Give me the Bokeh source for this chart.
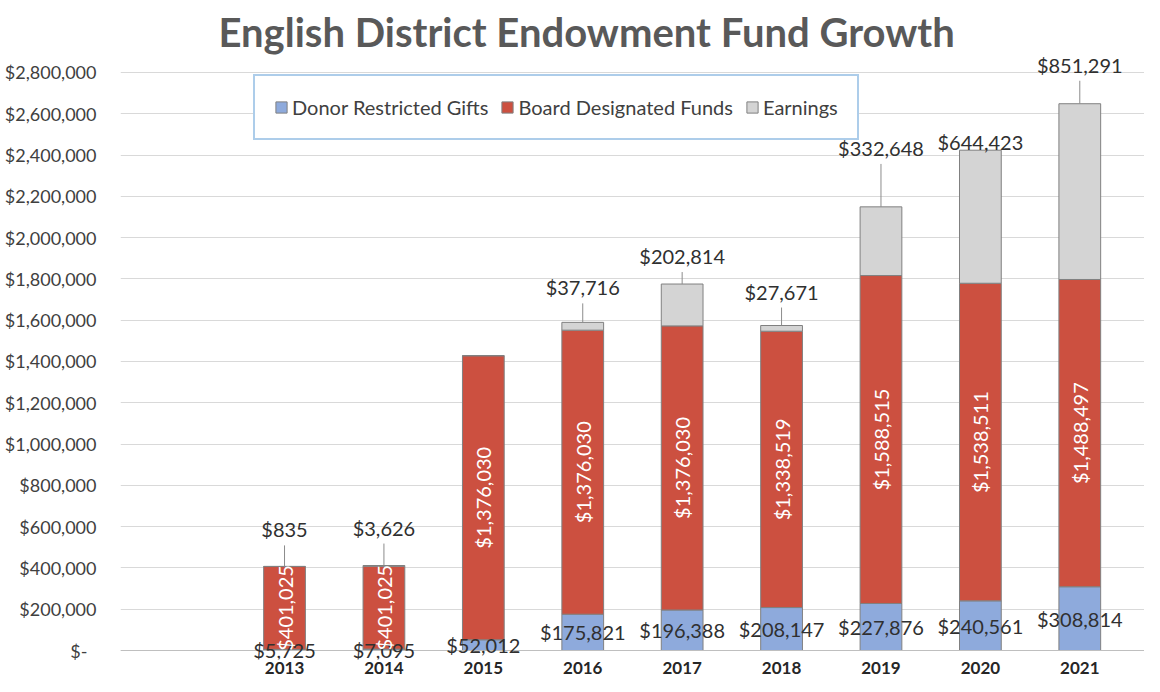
from bokeh.plotting import figure
from bokeh.models import ColumnDataSource, LabelSet, FixedTicker, Range1d, Span
from bokeh.core.properties import value
from bokeh.embed import file_html
from bokeh.resources import INLINE
import math

# ---------------- data ----------------
years = [2013, 2014, 2015, 2016, 2017, 2018, 2019, 2020, 2021]
donor = [5725, 7095, 52012, 175821, 196388, 208147, 227876, 240561, 308814]
board = [401025, 401025, 1376030, 1376030, 1376030, 1338519, 1588515, 1538511, 1488497]
earnings = [835, 3626, 0, 37716, 202814, 27671, 332648, 644423, 851291]
series_names = ["Donor Restricted Gifts", "Board Designated Funds", "Earnings"]
y_ticks = list(range(0, 2800001, 200000))
y_tick_labels = ["$-\u2002"] + [f"${v:,}" for v in y_ticks[1:]]
x_tick_labels = [str(y) for y in years]

# ---------------- layout / style ----------------
W, H = 1144, 676
FL, FR, FT, FB = 120, 0, 55, 16
UPP = 2800000 / 579.0           # data units per pixel
Y_TOP = 2800000 + 17 * UPP
Y_BOTTOM = -9 * UPP
earn_label_raise_px = [37, 38, 0, 35, 28, 34, 59, 8, 39]
LEADER_GAP_PX = 16

colors = ["#8eaadc", "#cc5040", "#d4d4d4"]
FONT = "Lato"

src = ColumnDataSource(dict(
    year=years, donor=donor, board=board, earnings=earnings,
))

p = figure(width=W, height=H, output_backend="svg", toolbar_location=None,
           x_range=Range1d(2011.350, 2021.651), y_range=Range1d(Y_BOTTOM, Y_TOP),
           min_border_left=FL, min_border_right=FR, min_border_top=FT, min_border_bottom=FB,
           title="English District Endowment Fund Growth")
p.outline_line_color = None
p.background_fill_color = "white"
p.border_fill_color = "white"

p.title.text_font = FONT
p.title.text_font_size = "40px"
p.title.text_font_style = "bold"
p.title.text_color = "#595959"
p.title.align = "left"
p.title.offset = 98
p.title.standoff = 0

p.vbar_stack(["donor", "board", "earnings"], x="year", width=0.42, source=src,
             fill_color=colors, line_color="#808080", line_width=1,
             legend_label=series_names)

# grid / axes
p.xgrid.grid_line_color = None
p.ygrid.grid_line_color = "#d9d9d9"
p.ygrid.ticker = FixedTicker(ticks=y_ticks)
p.add_layout(Span(location=0, dimension="width", line_color="#bfbfbf", line_width=1))

p.yaxis.ticker = FixedTicker(ticks=y_ticks)
p.yaxis.major_label_overrides = {t: l for t, l in zip(y_ticks, y_tick_labels)}
p.yaxis.axis_line_color = None
p.yaxis.major_tick_line_color = None
p.yaxis.minor_tick_line_color = None
p.yaxis.major_label_text_font = FONT
p.yaxis.major_label_text_font_size = "18px"
p.yaxis.major_label_text_color = "#404040"
p.yaxis.major_label_standoff = 18

p.xaxis.ticker = FixedTicker(ticks=years)
p.xaxis.major_label_overrides = {y: l for y, l in zip(years, x_tick_labels)}
p.xaxis.axis_line_color = None
p.xaxis.major_tick_line_color = None
p.xaxis.minor_tick_line_color = None
p.xaxis.major_label_text_font = FONT
p.xaxis.major_label_text_font_size = "17px"
p.xaxis.major_label_text_font_style = "bold"
p.xaxis.major_label_text_color = "#262626"
p.xaxis.major_label_standoff = -4

# ---------------- data labels ----------------
tops = [d + b + e for d, b, e in zip(donor, board, earnings)]
donor_lab = ColumnDataSource(dict(x=years, y=[d / 2 for d in donor],
                                  t=[f"${d:,}" for d in donor]))
board_lab = ColumnDataSource(dict(x=years, y=[d + b / 2 for d, b in zip(donor, board)],
                                  t=[f"${b:,}" for b in board]))
earn_lab = ColumnDataSource(dict(x=years, y=tops,
                                 off=earn_label_raise_px,
                                 t=[f"${e:,}" if e else "" for e in earnings]))

common = dict(text_align="center", text_baseline="middle",
              text_font=value(FONT), text_font_size=value("20px"))
p.add_layout(LabelSet(x="x", y="y", text="t", source=donor_lab,
                      text_color="#303030", **common))
p.add_layout(LabelSet(x="x", y="y", text="t", source=board_lab, angle=math.pi / 2,
                      text_color="white", **common))
p.add_layout(LabelSet(x="x", y="y", y_offset="off", text="t", source=earn_lab,
                      text_color="#303030", **common))

# leader lines
lx, ly0, ly1 = [], [], []
for x, top, r, e in zip(years, tops, earn_label_raise_px, earnings):
    if e and r > 20:
        lx.append(x)
        ly0.append(top)
        ly1.append(top + (r - LEADER_GAP_PX) * UPP)
p.segment(x0=lx, y0=ly0, x1=lx, y1=ly1, line_color="#8c8c8c", line_width=1)

# ---------------- legend ----------------
lg = p.legend[0]
lg.orientation = "horizontal"
lg.location = (133, 519)
lg.border_line_color = "#5b9bd5"
lg.border_line_width = 2
lg.background_fill_color = "white"
lg.background_fill_alpha = 1
lg.label_text_font = FONT
lg.label_text_font_size = "20px"
lg.label_text_color = "#404040"
lg.glyph_width = 14
lg.glyph_height = 14
lg.label_height = 20
lg.label_standoff = 4
lg.spacing = 12
lg.padding = 19
lg.margin = 0

open("out.html", "w").write(file_html(p, INLINE))
